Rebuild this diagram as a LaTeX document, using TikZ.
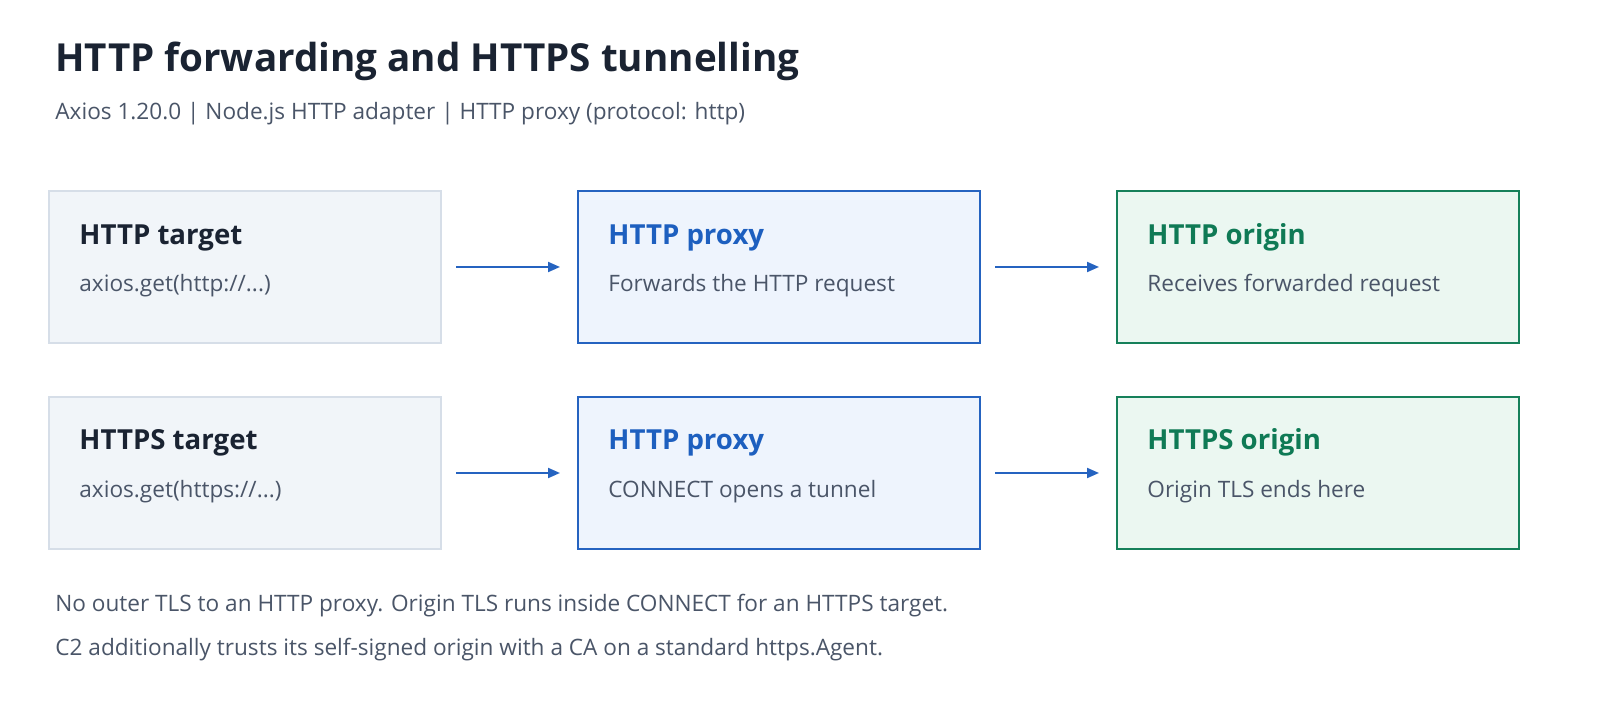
\documentclass[tikz,border=0pt]{standalone}
\usepackage{fontspec}
\setmainfont{Open Sans}
\usetikzlibrary{positioning,arrows.meta}
\definecolor{ink}{HTML}{1A2332}
\definecolor{muted}{HTML}{4A5568}
\definecolor{slatefill}{HTML}{F1F5F9}
\definecolor{slateline}{HTML}{D6DEE8}
\definecolor{bluefill}{HTML}{EEF4FD}
\definecolor{blueline}{HTML}{2563C0}
\definecolor{bluetext}{HTML}{1D5FBF}
\definecolor{greenfill}{HTML}{EBF7F1}
\definecolor{greenline}{HTML}{16805A}
\definecolor{greentext}{HTML}{0F7A55}
\begin{document}
\begin{tikzpicture}[x=0.5pt,y=-0.5pt,
	box/.style={draw, line width=0.8pt, minimum height=76pt, anchor=north west, inner sep=0pt, outer sep=0pt},
	client/.style={box, fill=slatefill, draw=slateline, minimum width=196pt},
	proxy/.style={box, fill=bluefill, draw=blueline, minimum width=201pt},
	origin/.style={box, fill=greenfill, draw=greenline, minimum width=201pt},
	head/.style={anchor=base west, font=\bfseries\fontsize{13.8}{16}\selectfont, inner sep=0pt},
	body/.style={anchor=base west, font=\fontsize{11.3}{14}\selectfont, text=muted, inner sep=0pt},
	flow/.style={-{Triangle[length=6pt,width=5pt]}, line width=1pt, draw=blueline, shorten <=7.5pt, shorten >=9pt}]
	\useasboundingbox[fill=white] (0,0) rectangle (1600,710);

	% Heading
	\node[anchor=base west, inner sep=0pt, text=ink, font=\bfseries\fontsize{19.3}{24}\selectfont] (title) at (55,72) {HTTP forwarding and HTTPS tunnelling};
	\node[anchor=base west, inner sep=0pt, text=muted, font=\fontsize{11.3}{14}\selectfont] (sub) at (55,120) {Axios 1.20.0 | Node.js HTTP adapter | HTTP proxy (protocol: http)};

	% HTTP row
	\node[client] (tgt1) at (49,191) {};
	\node[proxy] (prx1) at (578,191) {};
	\node[origin] (org1) at (1117,191) {};
	\node[head, text=ink] at (79,245) {HTTP target};
	\node[body] at (79,292) {axios.get(http://...)};
	\node[head, text=bluetext] at (608,245) {HTTP proxy};
	\node[body] at (608,292) {Forwards the HTTP request};
	\node[head, text=greentext] at (1147,245) {HTTP origin};
	\node[body] at (1147,292) {Receives forwarded request};
	\draw[flow] (tgt1) -- (prx1);
	\draw[flow] (prx1) -- (org1);

	% HTTPS row
	\node[client] (tgt2) at (49,397) {};
	\node[proxy] (prx2) at (578,397) {};
	\node[origin] (org2) at (1117,397) {};
	\node[head, text=ink] at (79,450) {HTTPS target};
	\node[body] at (79,498) {axios.get(https://...)};
	\node[head, text=bluetext] at (608,450) {HTTP proxy};
	\node[body] at (608,498) {CONNECT opens a tunnel};
	\node[head, text=greentext] at (1147,450) {HTTPS origin};
	\node[body] at (1147,498) {Origin TLS ends here};
	\draw[flow] (tgt2) -- (prx2);
	\draw[flow] (prx2) -- (org2);

	% Notes
	\node[body] (note1) at (55,611) {No outer TLS to an HTTP proxy. Origin TLS runs inside CONNECT for an HTTPS target.};
	\node[body] (note2) at (55,655) {C2 additionally trusts its self-signed origin with a CA on a standard https.Agent.};
\end{tikzpicture}
\end{document}
